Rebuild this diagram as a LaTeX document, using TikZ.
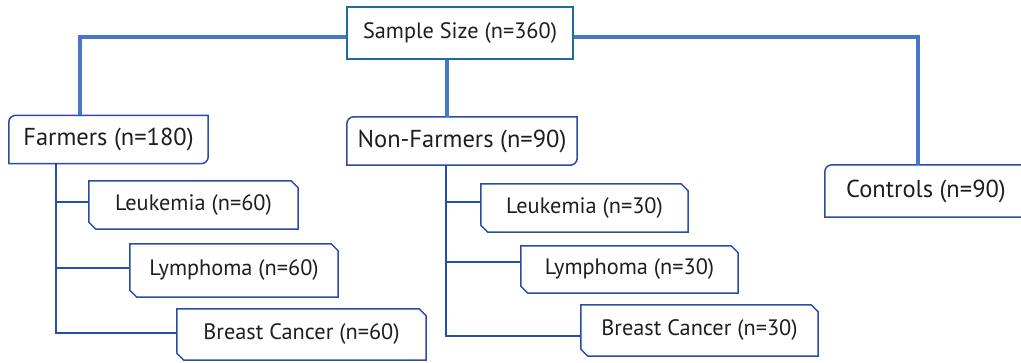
\documentclass[tikz,border=0pt]{standalone}
\usepackage{fontspec}
\setmainfont{PT Sans}

\definecolor{trunkblue}{RGB}{72,118,200}
\definecolor{topblue}{RGB}{30,108,160}
\definecolor{edgeblue}{RGB}{40,76,170}
\definecolor{inkgray}{RGB}{30,30,30}

\tikzset{
	topbox/.style={draw=topblue, line width=2.4pt, minimum width=226pt, minimum height=52pt, inner sep=0pt, text=inkgray, font=\fontsize{22.3}{26}\selectfont},
	groupbox/.style={minimum height=48pt, inner sep=0pt, text=inkgray, font=\fontsize{24.5}{28}\selectfont},
	subbox/.style={minimum height=48pt, inner sep=0pt, text=inkgray, font=\fontsize{22.3}{26}\selectfont},
	trunk/.style={draw=trunkblue, line width=4pt},
	branch/.style={draw=edgeblue, line width=1.5pt},
}

\begin{document}
\begin{tikzpicture}[x=1pt, y=-1pt]
		\useasboundingbox (0,0) rectangle (1021,362);
		\clip (0,0) rectangle (1021,362);

		\node[topbox] (sample) at (460,33) {Sample Size (n=360)};

		\node[groupbox, minimum width=199pt] (farm) at (108.5,139.5) {Farmers (n=180)};
		\node[groupbox, minimum width=230pt] (nonf) at (462,141) {Non-Farmers (n=90)};
		\node[groupbox, minimum width=202pt, minimum height=52pt] (ctrl) at (926,191) {Controls (n=90)};

		\node[subbox, minimum width=209pt] (leukA) at (193.5,205) {Leukemia (n=60)};
		\node[subbox, minimum width=208pt, minimum height=53pt] (lymA) at (234,270.5) {Lymphoma (n=60)};
		\node[subbox, minimum width=249pt, minimum height=51pt] (brA) at (301.5,334.5) {Breast Cancer (n=60)};

		\node[subbox, minimum width=207pt] (leukB) at (584.5,208) {Leukemia (n=30)};
		\node[subbox, minimum width=217pt, minimum height=47pt] (lymB) at (629.5,269.5) {Lymphoma (n=30)};
		\node[subbox, minimum width=237pt, minimum height=51pt] (brB) at (699.5,330.5) {Breast Cancer (n=30)};

		% group boxes: two rounded corners
		\foreach \n in {farm,nonf,ctrl}
			\draw[branch] (\n.south west) -- ([yshift=-7pt]\n.north west) arc[start angle=180, end angle=90, radius=7pt]
				-- (\n.north east) -- ([yshift=7pt]\n.south east) arc[start angle=0, end angle=-90, radius=7pt] -- cycle;

		% sub boxes: two cut corners
		\foreach \n in {leukA,lymA,brA,leukB,lymB,brB}
			\draw[branch] (\n.north west) -- ([xshift=-7pt]\n.north east) -- ([yshift=-7pt]\n.north east)
				-- (\n.south east) -- ([xshift=7pt]\n.south west) -- ([yshift=7pt]\n.south west) -- cycle;

		\draw[trunk] ([yshift=-4pt]sample.west) -| ([xshift=71pt]farm.north west);
		\draw[trunk] ([yshift=-4pt]sample.east) -| ([xshift=93pt]ctrl.north west);
		\draw[trunk] ([xshift=-13pt]sample.south) -- ([xshift=-13pt]sample.south |- nonf.north);

		\coordinate (farmfork) at ([xshift=47pt]farm.south west);
		\foreach \c/\dy in {leukA/3,lymA/2.5,brA/1.5}
			\draw[branch] (farmfork) |- ([yshift=\dy pt]\c.west);

		\coordinate (nonffork) at ([xshift=99pt]nonf.south west);
		\foreach \c/\dy in {leukB/6,lymB/7.5,brB/-5.5}
			\draw[branch] (nonffork) |- ([yshift=\dy pt]\c.west);

	\end{tikzpicture}
\end{document}
